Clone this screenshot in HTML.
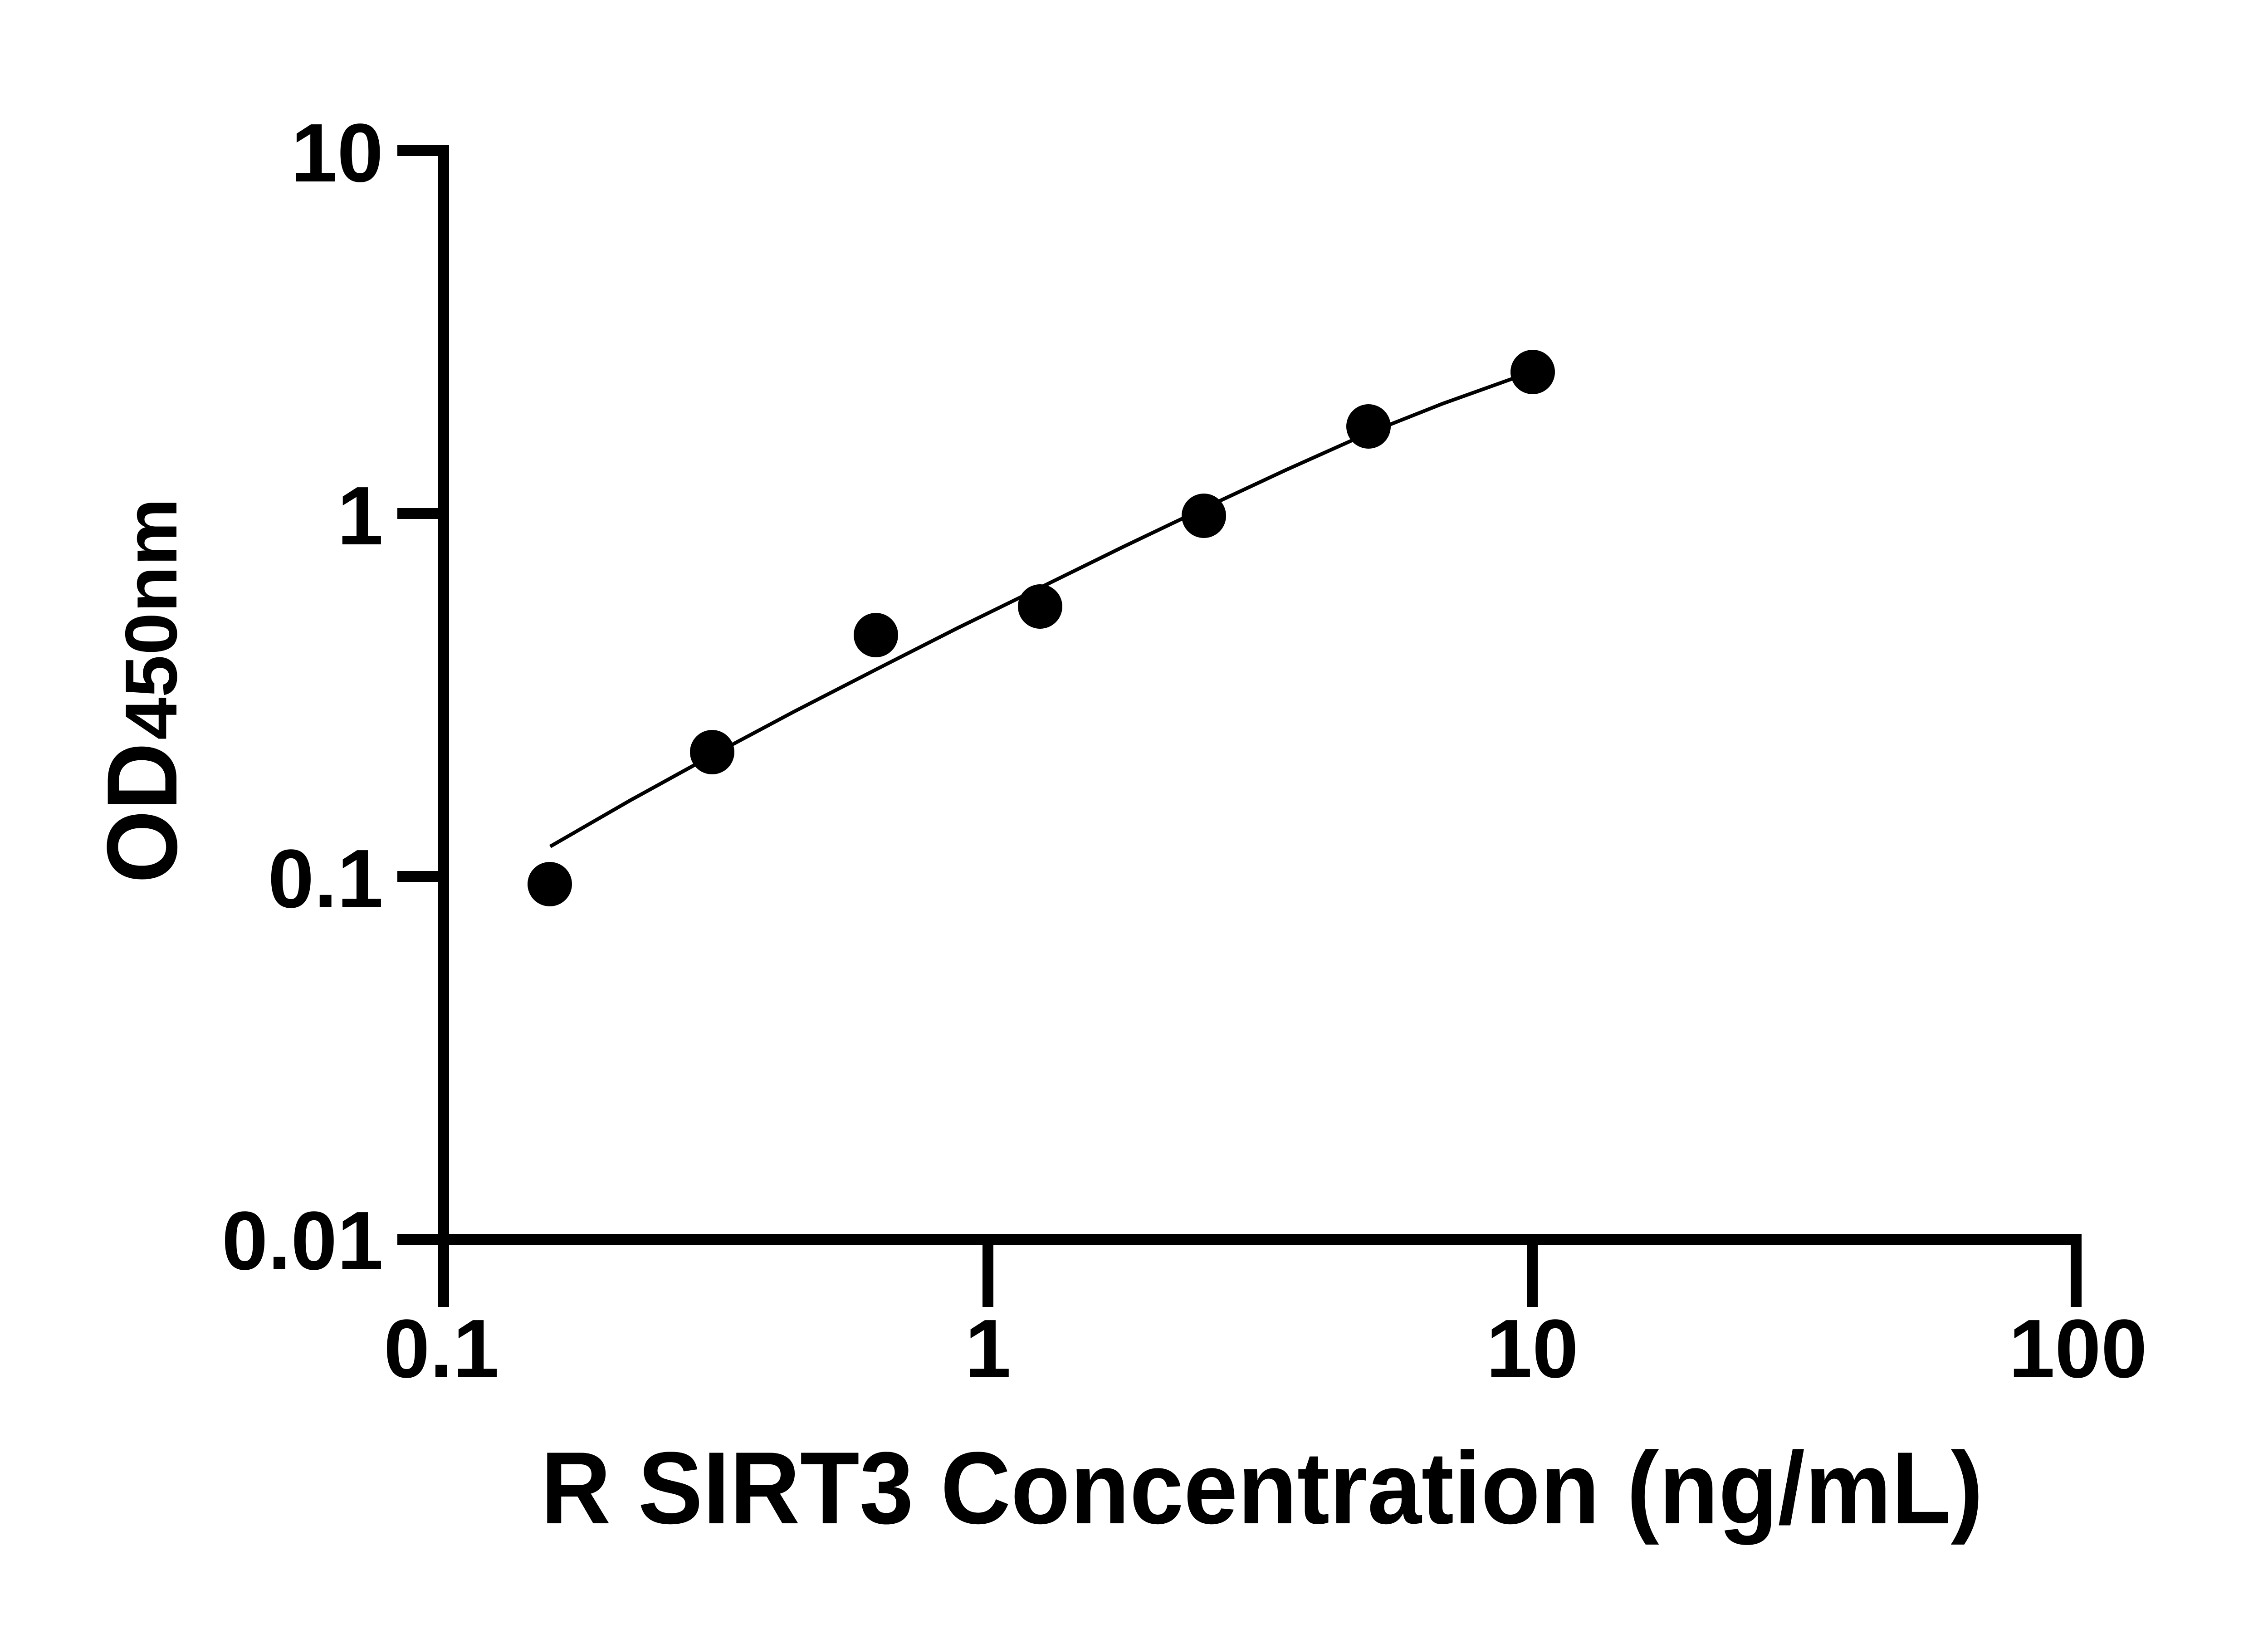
<!DOCTYPE html>
<html><head><meta charset="utf-8"><style>html,body{margin:0;padding:0;background:#fff}svg{display:block}</style></head>
<body>
<svg width="5138" height="3591" viewBox="0 0 5138 3591" xmlns="http://www.w3.org/2000/svg">
<rect width="5138" height="3591" fill="#fff"/>
<g stroke="#000" stroke-width="24" fill="none" stroke-linecap="butt">
  <path d="M876 332 H978 V2732 H4589"/>
  <path d="M876 1132 H978 M876 1932 H978 M876 2732 H978"/>
  <path d="M978 2720 V2881 M2178 2720 V2881 M3378 2720 V2881 M4577 2720 V2881"/>
</g>
<g font-family="Liberation Sans, Arial, sans-serif" font-weight="bold" font-size="183" fill="#000">
  <text x="845" y="400" text-anchor="end">10</text>
  <text x="845" y="1200" text-anchor="end">1</text>
  <text x="845" y="2000" text-anchor="end">0.1</text>
  <text x="845" y="2798" text-anchor="end">0.01</text>
  <text x="973" y="3036" text-anchor="middle">0.1</text>
  <text x="2178" y="3036" text-anchor="middle">1</text>
  <text x="3378" y="3036" text-anchor="middle">10</text>
  <text x="4581" y="3036" text-anchor="middle">100</text>
</g>
<polyline fill="none" stroke="#000" stroke-width="8" points="1213,1866 1390,1764 1570,1665 1750,1569 1931,1476 2112,1384 2294,1295 2475,1206 2655,1120 2835,1036 3016,955 3180,890 3342,832"/>
<g fill="#000">
  <circle cx="1212" cy="1949" r="49"/>
  <circle cx="1570" cy="1658" r="49"/>
  <circle cx="1931" cy="1400" r="49"/>
  <circle cx="2293" cy="1337" r="49"/>
  <circle cx="2654" cy="1137" r="49"/>
  <circle cx="3017" cy="940" r="49"/>
  <circle cx="3379" cy="820" r="49"/>
</g>
<text x="1192" y="3358" font-family="Liberation Sans, Arial, sans-serif" font-weight="bold" font-size="226" textLength="3180" lengthAdjust="spacingAndGlyphs">R SIRT3 Concentration (ng/mL)</text>
<g transform="translate(389,1947) rotate(-90)" font-family="Liberation Sans, Arial, sans-serif" font-weight="bold" fill="#000">
  <text x="0" y="0" font-size="220" textLength="310" lengthAdjust="spacingAndGlyphs">OD</text>
  <text x="316" y="0" font-size="162" textLength="533" lengthAdjust="spacingAndGlyphs">450nm</text>
</g>
</svg>
</body></html>
